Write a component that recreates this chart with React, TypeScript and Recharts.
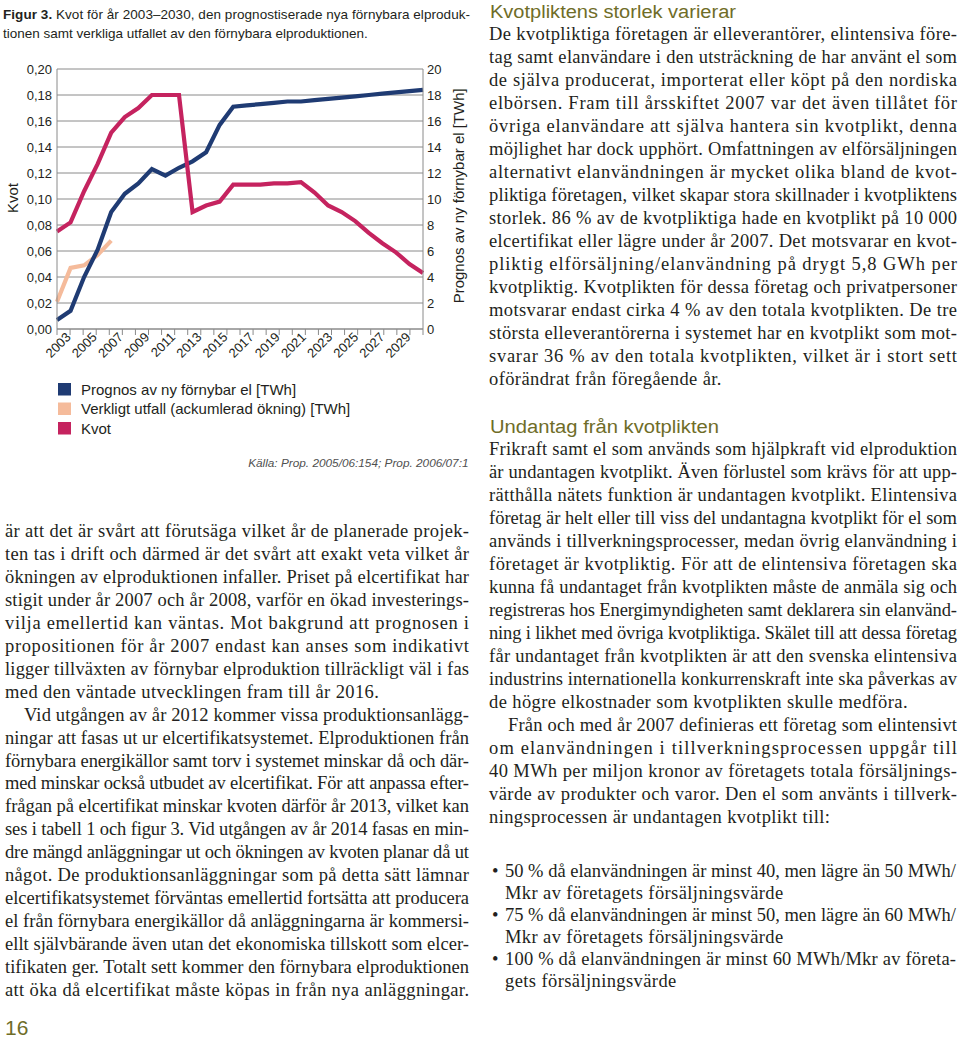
import React from "react";
import { LineChart, Line, XAxis, YAxis, CartesianGrid } from "recharts";

const SANS = "'Liberation Sans', Arial, Helvetica, sans-serif";
const SERIF = "'Liberation Serif', 'Times New Roman', serif";
const INK = "#231f20";
const OLIVE = "#6f6d28";
const GRID = "#8a8a8a";

const BLUE = "#1f3b73";
const PEACH = "#f5bb9b";
const PINK = "#c5235f";

// years on the x axis
const YEARS = [
  2003, 2004, 2005, 2006, 2007, 2008, 2009, 2010, 2011, 2012, 2013, 2014, 2015, 2016,
  2017, 2018, 2019, 2020, 2021, 2022, 2023, 2024, 2025, 2026, 2027, 2028, 2029, 2030,
];
const LABEL_YEARS = [2003, 2005, 2007, 2009, 2011, 2013, 2015, 2017, 2019, 2021, 2023, 2025, 2027, 2029];

// Prognos av ny förnybar el [TWh] (right axis)
const PROGNOS = [
  0.7, 1.4, 4.0, 6.1, 9.0, 10.4, 11.2, 12.3, 11.8, 12.4, 12.9, 13.6, 15.7, 17.1,
  17.2, 17.3, 17.4, 17.5, 17.5, 17.6, 17.7, 17.8, 17.9, 18.0, 18.1, 18.2, 18.3, 18.4,
];
// Verkligt utfall (ackumlerad ökning) [TWh], 2003-2007
const UTFALL = [2.1, 4.7, 4.9, 5.7, 6.8];
// Kvot (left axis)
const KVOT = [
  0.075, 0.082, 0.106, 0.127, 0.151, 0.163, 0.17, 0.18, 0.18, 0.18, 0.09, 0.095, 0.098, 0.111,
  0.111, 0.111, 0.112, 0.112, 0.113, 0.105, 0.095, 0.09, 0.083, 0.074, 0.066, 0.059, 0.05, 0.043,
];

const KVOT_TICKS = [0, 0.02, 0.04, 0.06, 0.08, 0.1, 0.12, 0.14, 0.16, 0.18, 0.2];
const TWH_TICKS = [0, 2, 4, 6, 8, 10, 12, 14, 16, 18, 20];

const SERIES = [
  { name: "Prognos av ny förnybar el [TWh]", color: BLUE },
  { name: "Verkligt utfall (ackumlerad ökning) [TWh]", color: PEACH },
  { name: "Kvot", color: PINK },
];

const rows = YEARS.map((year, i) => ({
  year,
  prognos: PROGNOS[i],
  utfall: i < UTFALL.length ? UTFALL[i] : null,
  kvot: KVOT[i],
}));

// tick marks sit between the year categories (one more tick than years)
const first = YEARS[0];
const last = YEARS[YEARS.length - 1];
const boundaries = Array.from(
  { length: YEARS.length + 1 },
  (_, i) => first + (i * (last - first)) / YEARS.length
);

function YearTick(props: any) {
  const { x, y, index } = props;
  const year = YEARS[index - 1];
  if (!index || !LABEL_YEARS.includes(year)) return <g />;
  const ax = x + 1.5;
  return (
    <text
      x={ax}
      y={y}
      transform={`rotate(-45 ${ax} ${y})`}
      textAnchor="end"
      fontSize={13}
      fontFamily={SANS}
      fill={INK}
    >
      {year}
    </text>
  );
}

const fmtKvot = (v: number) => v.toFixed(2).replace(".", ",");

// ---------- page text ----------
const CAPTION = [
  "Kvot för år 2003–2030, den prognostiserade nya förnybara elproduk-",
  "tionen samt verkliga utfallet av den förnybara elproduktionen.",
];

const LEFT_LINES = [
  "är att det är svårt att förutsäga vilket år de planerade projek-",
  "ten tas i drift och därmed är det svårt att exakt veta vilket år",
  "ökningen av elproduktionen infaller. Priset på elcertifikat har",
  "stigit under år 2007 och år 2008, varför en ökad investerings-",
  "vilja emellertid kan väntas. Mot bakgrund att prognosen i",
  "propositionen för år 2007 endast kan anses som indikativt",
  "ligger tillväxten av förnybar elproduktion tillräckligt väl i fas",
  "med den väntade utvecklingen fram till år 2016.",
  "Vid utgången av år 2012 kommer vissa produktionsanlägg-",
  "ningar att fasas ut ur elcertifikatsystemet. Elproduktionen från",
  "förnybara energikällor samt torv i systemet minskar då och där-",
  "med minskar också utbudet av elcertifikat. För att anpassa efter-",
  "frågan på elcertifikat minskar kvoten därför år 2013, vilket kan",
  "ses i tabell 1 och figur 3. Vid utgången av år 2014 fasas en min-",
  "dre mängd anläggningar ut och ökningen av kvoten planar då ut",
  "något. De produktionsanläggningar som på detta sätt lämnar",
  "elcertifikatsystemet förväntas emellertid fortsätta att producera",
  "el från förnybara energikällor då anläggningarna är kommersi-",
  "ellt självbärande även utan det ekonomiska tillskott som elcer-",
  "tifikaten ger. Totalt sett kommer den förnybara elproduktionen",
  "att öka då elcertifikat måste köpas in från nya anläggningar.",
];
const LEFT_LAST = [7];
const LEFT_INDENT = [8];

const RIGHT_A = [
  "De kvotpliktiga företagen är elleverantörer, elintensiva före-",
  "tag samt elanvändare i den utsträckning de har använt el som",
  "de själva producerat, importerat eller köpt på den nordiska",
  "elbörsen. Fram till årsskiftet 2007 var det även tillåtet för",
  "övriga elanvändare att själva hantera sin kvotplikt, denna",
  "möjlighet har dock upphört. Omfattningen av elförsäljningen",
  "alternativt elanvändningen är mycket olika bland de kvot-",
  "pliktiga företagen, vilket skapar stora skillnader i kvotpliktens",
  "storlek. 86 % av de kvotpliktiga hade en kvotplikt på 10 000",
  "elcertifikat eller lägre under år 2007. Det motsvarar en kvot-",
  "pliktig elförsäljning/elanvändning på drygt 5,8 GWh per",
  "kvotpliktig. Kvotplikten för dessa företag och privatpersoner",
  "motsvarar endast cirka 4 % av den totala kvotplikten. De tre",
  "största elleverantörerna i systemet har en kvotplikt som mot-",
  "svarar 36 % av den totala kvotplikten, vilket är i stort sett",
  "oförändrat från föregående år.",
];
const RIGHT_B = [
  "Frikraft samt el som används som hjälpkraft vid elproduktion",
  "är undantagen kvotplikt. Även förlustel som krävs för att upp-",
  "rätthålla nätets funktion är undantagen kvotplikt. Elintensiva",
  "företag är helt eller till viss del undantagna kvotplikt för el som",
  "används i tillverkningsprocesser, medan övrig elanvändning i",
  "företaget är kvotpliktig. För att de elintensiva företagen ska",
  "kunna få undantaget från kvotplikten måste de anmäla sig och",
  "registreras hos Energimyndigheten samt deklarera sin elanvänd-",
  "ning i likhet med övriga kvotpliktiga. Skälet till att dessa företag",
  "får undantaget från kvotplikten är att den svenska elintensiva",
  "industrins internationella konkurrenskraft inte ska påverkas av",
  "de högre elkostnader som kvotplikten skulle medföra.",
  "Från och med år 2007 definieras ett företag som elintensivt",
  "om elanvändningen i tillverkningsprocessen uppgår till",
  "40 MWh per miljon kronor av företagets totala försäljnings-",
  "värde av produkter och varor. Den el som använts i tillverk-",
  "ningsprocessen är undantagen kvotplikt till:",
];
const RIGHT_B_LAST = [11, 16];
const RIGHT_B_INDENT = [12];

const BULLETS = [
  ["50 % då elanvändningen är minst 40, men lägre än 50 MWh/", "Mkr av företagets försäljningsvärde"],
  ["75 % då elanvändningen är minst 50, men lägre än 60 MWh/", "Mkr av företagets försäljningsvärde"],
  ["100 % då elanvändningen är minst 60 MWh/Mkr av företa-", "gets försäljningsvärde"],
];

function Line_({ x, y, w, text, justify }: { x: number; y: number; w: number; text: string; justify: boolean }) {
  return (
    <text
      x={x}
      y={y}
      textLength={justify ? w : undefined}
      lengthAdjust={justify ? "spacing" : undefined}
      style={justify ? undefined : { letterSpacing: "0.4px" }}
    >
      {text}
    </text>
  );
}

function Column({
  lines, x, w, y0, step, last, indent,
}: { lines: string[]; x: number; w: number; y0: number; step: number; last: number[]; indent: number[] }) {
  return (
    <g fontFamily={SERIF} fontSize={18.5} fill={INK}>
      {lines.map((t, i) => {
        const ind = indent.includes(i) ? 19 : 0;
        return (
          <Line_ key={i} x={x + ind} y={y0 + i * step} w={w - ind} text={t} justify={!last.includes(i)} />
        );
      })}
    </g>
  );
}

export default function App() {
  return (
    <div style={{ position: "absolute", left: 0, top: 0, width: 960, height: 1042, background: "#fff" }}>
      <div style={{ position: "absolute", left: 0, top: 50 }}>
        <LineChart width={480} height={330} data={rows} margin={{ top: 19, right: 0, bottom: 0, left: 0 }}>
          <CartesianGrid yAxisId="kvot" vertical={false} stroke={GRID} />
          <XAxis
            dataKey="year"
            type="number"
            domain={[first, last]}
            ticks={boundaries}
            interval={0}
            tick={<YearTick />}
            tickSize={6}
            tickMargin={3}
            height={51}
            axisLine={{ stroke: GRID }}
            tickLine={{ stroke: GRID }}
          />
          <YAxis
            yAxisId="kvot"
            domain={[0, 0.2]}
            ticks={KVOT_TICKS}
            interval={0}
            tickFormatter={fmtKvot}
            width={57}
            tickSize={0}
            tickMargin={5}
            tickLine={false}
            axisLine={{ stroke: GRID }}
            tick={{ fontSize: 13, fill: INK, fontFamily: SANS }}
          />
          <YAxis
            yAxisId="twh"
            orientation="right"
            domain={[0, 20]}
            ticks={TWH_TICKS}
            interval={0}
            width={57}
            tickSize={0}
            tickMargin={4}
            tickLine={false}
            axisLine={{ stroke: GRID }}
            tick={{ fontSize: 13, fill: INK, fontFamily: SANS }}
          />
          <Line yAxisId="twh" dataKey="utfall" stroke={PEACH} strokeWidth={4.2} dot={false} activeDot={false} isAnimationActive={false} />
          <Line yAxisId="twh" dataKey="prognos" stroke={BLUE} strokeWidth={4.2} dot={false} activeDot={false} isAnimationActive={false} />
          <Line yAxisId="kvot" dataKey="kvot" stroke={PINK} strokeWidth={4.2} dot={false} activeDot={false} isAnimationActive={false} />
        </LineChart>
      </div>

      <svg width={960} height={1042} style={{ position: "absolute", left: 0, top: 0, pointerEvents: "none" }}>
        {/* caption */}
        <g fontFamily={SANS} fontSize={13.5} fill={INK}>
          <text x={3} y={19} textLength={467} lengthAdjust="spacing">
            <tspan fontWeight="bold">Figur 3.</tspan> {CAPTION[0]}
          </text>
          <text x={3} y={37.5}>{CAPTION[1]}</text>
        </g>

        {/* axis titles */}
        <text transform="translate(17.5,198) rotate(-90)" textAnchor="middle" fontFamily={SANS} fontSize={15} fill={INK}>
          Kvot
        </text>
        <text transform="translate(464,195.8) rotate(-90)" textAnchor="middle" fontFamily={SANS} fontSize={15} fill={INK}>
          Prognos av ny förnybar el [TWh]
        </text>

        {/* legend */}
        {SERIES.map((s, i) => (
          <g key={s.name}>
            <rect x={58} y={383 + i * 19.5} width={13} height={12.5} fill={s.color} />
            <text x={81} y={394.5 + i * 19.5} fontFamily={SANS} fontSize={15} fill={INK}>
              {s.name}
            </text>
          </g>
        ))}
        <text x={468.5} y={467} textAnchor="end" fontFamily={SANS} fontStyle="italic" fontSize={11.8} fill="#505050">
          Källa: Prop. 2005/06:154; Prop. 2006/07:1
        </text>

        {/* left column */}
        <Column lines={LEFT_LINES} x={5} w={464} y0={537} step={22.95} last={LEFT_LAST} indent={LEFT_INDENT} />

        {/* right column */}
        <text x={490} y={18.3} textLength={246} lengthAdjust="spacingAndGlyphs" fontFamily={SANS} fontSize={18} fill={OLIVE}>
          Kvotpliktens storlek varierar
        </text>
        <Column lines={RIGHT_A} x={489} w={468} y0={40} step={23} last={[15]} indent={[]} />
        <text x={490} y={433} textLength={229} lengthAdjust="spacingAndGlyphs" fontFamily={SANS} fontSize={18} fill={OLIVE}>
          Undantag från kvotplikten
        </text>
        <Column lines={RIGHT_B} x={489} w={468} y0={455} step={23} last={RIGHT_B_LAST} indent={RIGHT_B_INDENT} />

        <g fontFamily={SERIF} fontSize={18.5} fill={INK}>
          {BULLETS.map((b, i) => (
            <g key={i}>
              <text x={492} y={877 + i * 44}>•</text>
              <Line_ x={505} y={877 + i * 44} w={451} text={b[0]} justify />
              <Line_ x={505} y={899 + i * 44} w={451} text={b[1]} justify={false} />
            </g>
          ))}
        </g>

        <text x={5} y={1035} fontFamily={SANS} fontSize={21} fill={OLIVE}>
          16
        </text>
      </svg>
    </div>
  );
}
